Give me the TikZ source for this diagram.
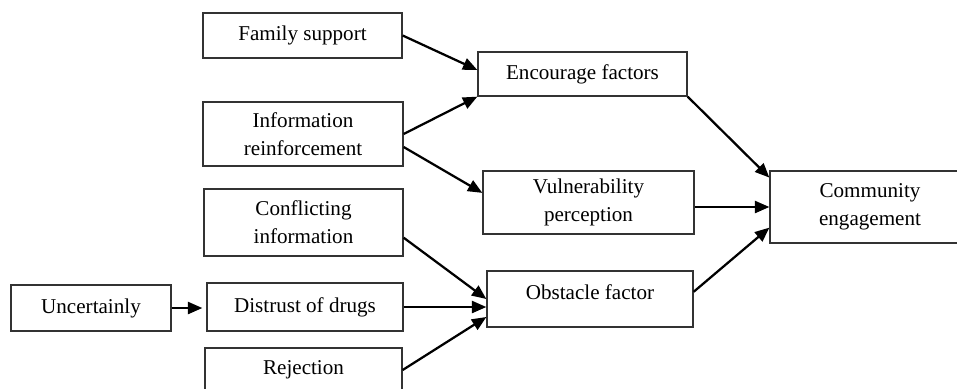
\documentclass[tikz,border=0pt]{standalone}
\usepackage{fontspec}
\setmainfont{Liberation Serif}
\usepackage{tikz}
\usetikzlibrary{positioning}
\usetikzlibrary{calc}
\usetikzlibrary{arrows.meta}
\tikzset{>=latex}
\tikzset{
  box/.style={draw=black!80, line width=0.9pt, align=center, inner sep=2pt,
    font=\fontsize{15}{20}\selectfont},
  arr/.style={-{Triangle[length=3.6mm,width=3mm]}, line width=1.6pt}
}

\begin{document}
\begin{tikzpicture}[x=0.025cm, y=-0.025cm]
    % 1. Page frame (same size as the figure)
    \useasboundingbox (0,0) rectangle (957,388);

    % 2. Left column
    \node[box, minimum width=4.975cm, minimum height=1.125cm] (fam) at (302.5,35.5) {Family support};
    \node[box, minimum width=5cm, minimum height=1.6cm] (info) at (303,134) {Information\\reinforcement};
    \node[box, minimum width=4.975cm, minimum height=1.675cm] (confl) at (303.5,222.5) {Conflicting\\information};
    \node[box, minimum width=4.9cm, minimum height=1.2cm] (distr) at (305,307) {Distrust of drugs};
    \node[box, minimum width=4.925cm, minimum height=1.1cm] (rej) at (303.5,370) {Rejection};

    % 3. Far left
    \node[box, minimum width=4cm, minimum height=1.15cm] (uncert) at (91,308) {Uncertainly};

    % 4. Middle column
    \node[box, minimum width=5.225cm, minimum height=1.1cm] (enc) at (582.5,74) {Encourage factors};
    \node[box, minimum width=5.275cm, minimum height=1.575cm] (vul) at (588.5,202.5) {Vulnerability\\perception};
    \node[box, minimum width=5.15cm, minimum height=1.4cm, text depth=0.35cm] (obst) at (590,299) {Obstacle factor};

    % 5. Outcome (runs past the right edge)
    \node[box, minimum width=5cm, minimum height=1.8cm] (comm) at (870,207) {Community\\engagement};

    % 6. Arrows into the middle column
    \draw[arr] (fam.east) -- ([yshift=0.1cm]enc.west);
    \draw[arr] (info.east) -- (enc.south west);
    \draw[arr] ([yshift=-0.325cm]info.east) -- ([yshift=0.24cm]vul.west);
    \draw[arr] ([yshift=-0.38cm]confl.east) -- (obst.west);
    \draw[arr] (distr.east) -- (distr.east -| obst.west);
    \draw[arr] (rej.east) -- ([yshift=-0.45cm]obst.west);
    \draw[arr, shorten >=0.1cm] (uncert.east) -- (uncert.east -| distr.west);

    % 7. Arrows into the outcome
    \draw[arr] (enc.south east) -- ([yshift=-0.18cm]comm.north west);
    \draw[arr] (vul.east |- comm.west) -- (comm.west);
    \draw[arr] ([yshift=0.18cm]obst.east) -- ([yshift=0.4cm]comm.south west);
\end{tikzpicture}
\end{document}
